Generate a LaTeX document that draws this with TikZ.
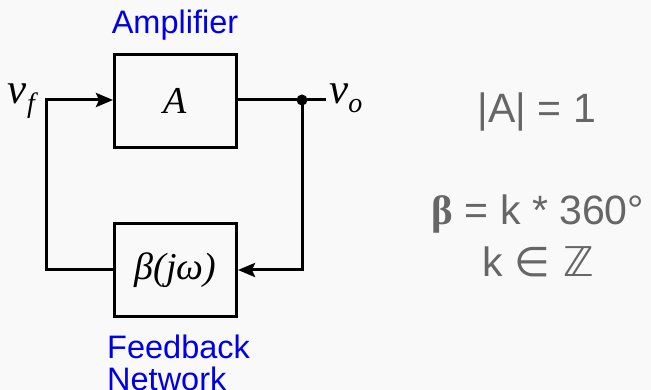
\documentclass[tikz,border=0pt]{standalone}
\usepackage{fontspec}
\setmainfont{Liberation Sans}
\newfontfamily\dejavu{DejaVu Sans}
\newfontfamily\serifgr{Liberation Serif}
\newfontfamily\varfont{Liberation Serif}
\usetikzlibrary{arrows.meta}
\definecolor{bgc}{RGB}{249,249,249}
\definecolor{lblblue}{RGB}{0,0,230}
\definecolor{txtgray}{RGB}{102,102,102}
\newcommand{\subsc}[1]{\raisebox{-9pt}{\fontsize{28}{28}\selectfont #1}}
\tikzset{
  blk/.style={draw=black, line width=3pt, minimum width=122pt, minimum height=93pt, inner sep=0pt, font=\varfont\itshape\fontsize{38}{42}\selectfont},
  wire/.style={line width=3pt},
  arr/.style={wire, -{Stealth[length=17pt,width=14pt,inset=3pt]}},
  blulbl/.style={text=lblblue, font=\fontsize{32.5}{36}\selectfont, inner sep=0pt},
  graylbl/.style={text=txtgray, font=\fontsize{41}{48}\selectfont, inner sep=0pt, anchor=base},
  siglbl/.style={font=\varfont\itshape\fontsize{43}{46}\selectfont, inner sep=0pt}
}
\begin{document}
\begin{tikzpicture}[x=1pt,y=-1pt]
\fill[bgc] (0,0) rectangle (651,390);
\useasboundingbox (0,0) rectangle (651,390);
% blocks
\node[blk] (amp) at (175.5,101) {A};
\node[blk] (fb) at (175.5,270) {β(jω)};
% coordinates
\coordinate (dot) at (302,100);
\coordinate (out) at (326,100);
\coordinate (tr) at (302,270);
\coordinate (tl) at (46,270);
\coordinate (ul) at (46,100);
% wires
\draw[wire] (amp.east |- dot) -- (dot) -- (out);
\fill (dot) circle (5.5);
\draw[arr] (fb.west) -- (tl) -- (ul) -- (amp.west |- ul);
\draw[arr] (dot) -- (tr) -- (fb.east);
% signal labels
\node[siglbl, anchor=base east] (vf) at (35,104) {v\subsc{f}};
\node[siglbl, anchor=base west] (vo) at (329,104) {v\subsc{o}};
% blue labels
\node[blulbl, anchor=base] (ampl) at (175,34) {Amplifier};
\node[blulbl, anchor=base west] (fbl1) at (107,358) {Feedback};
\node[blulbl, anchor=base west] (fbl2) at (107,390) {Network};
% gray text
\node[graylbl] (eq1) at (537,123) {|A| = 1};
\node[graylbl] (eq2) at (538,225) {{\serifgr\bfseries β} = k * 360°};
\node[graylbl] (eq3) at (538,277) {k {\dejavu ∈ ℤ}};
\end{tikzpicture}
\end{document}
